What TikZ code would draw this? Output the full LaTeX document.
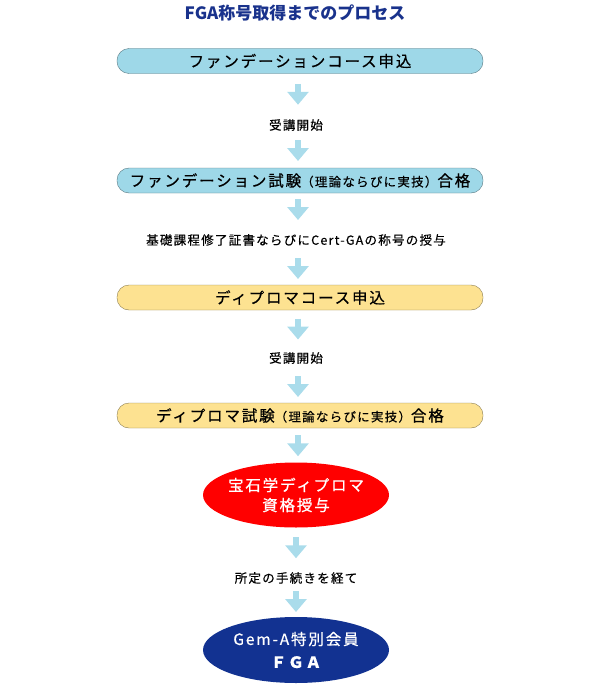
\documentclass[tikz,border=0pt]{standalone}
\usepackage{fontspec}
\setmainfont{Noto Sans CJK JP}
\newfontfamily\stagefont[LetterSpace=12,FakeBold=0.6]{Noto Sans CJK JP}
\newfontfamily\notefont[LetterSpace=10,FakeBold=0.5]{Noto Sans CJK JP}
\definecolor{titlecol}{RGB}{25,50,140}
\definecolor{foundcol}{RGB}{158,216,232}
\definecolor{diplcol}{RGB}{253,226,145}
\definecolor{flowcol}{RGB}{170,220,235}
\definecolor{fgacol}{RGB}{18,50,145}
\definecolor{dipred}{RGB}{255,0,0}
\usetikzlibrary{shapes.geometric,arrows.meta,calc}
\newcommand\bigtext{\stagefont\fontsize{15.5pt}{20pt}\selectfont}
\newcommand\smalltext{\notefont\fontsize{12.5pt}{15pt}\selectfont}
\tikzset{
  stagebox/.style={draw=#1!55!black,fill=#1,rounded corners=12pt,
    minimum width=366pt,minimum height=25pt,inner sep=0pt,font=\bigtext},
  goal/.style={ellipse,fill=#1,minimum width=186pt,minimum height=65pt,
    inner xsep=-8pt,inner ysep=0pt,font=\bigtext,text=white,align=center}
}
\begin{document}
\begin{tikzpicture}[x=1pt,y=-1pt,
  flow/.style={flowcol,line width=6pt,-{Triangle[width=21pt,length=13pt]}},
  note/.style={font=\smalltext,inner sep=0pt,minimum height=14pt}
]
  \useasboundingbox (0,0) rectangle (593,685);
  \node[font=\fontsize{17pt}{19pt}\selectfont\bfseries,text=titlecol] (title) at (295,13) {FGA称号取得までのプロセス};
  \node[stagebox=foundcol] (fcourse) at (300,61) {ファンデーションコース申込};
  \node[note] (start1) at (296,125) {受講開始};
  \node[stagebox=foundcol] (fexam) at (300,180.5) {ファンデーション試験{\smalltext（理論ならびに実技）}合格};
  \node[note] (cert) at (296,240) {基礎課程修了証書ならびにCert-GAの称号の授与};
  \node[stagebox=diplcol] (dcourse) at (300,297.5) {ディプロマコース申込};
  \node[note] (start2) at (296,358) {受講開始};
  \node[stagebox=diplcol] (dexam) at (300,415.5) {ディプロマ試験{\smalltext（理論ならびに実技）}合格};
  \node[goal=dipred] (diploma) at (296,495) {宝石学ディプロマ\\資格授与};
  \node[note] (proc) at (296,578) {所定の手続きを経て};
  \node[goal=fgacol,minimum height=66pt] (fga) at (296,650) {Gem-A特別会員\\[3pt]{\bfseries ＦＧＡ}};
  % flow arrows, centred in each gap
  \draw[flow] ($(fcourse.south)!.5!(start1.north)+(0,-12)$) -- ++(0,21);
  \draw[flow] ($(start1.south)!.5!(fexam.north)+(0,-10)$) -- ++(0,21);
  \draw[flow] ($(fexam.south)!.5!(cert.north)+(0,-14)$) -- ++(0,21);
  \draw[flow] ($(cert.south)!.5!(dcourse.north)+(0,-8)$) -- ++(0,21);
  \draw[flow] ($(dcourse.south)!.5!(start2.north)+(0,-12)$) -- ++(0,21);
  \draw[flow] ($(start2.south)!.5!(dexam.north)+(0,-8)$) -- ++(0,21);
  \draw[flow] ($(dexam.south)!.5!(diploma.north)+(0,-10)$) -- ++(0,21);
  \draw[flow] ($(diploma.south)!.5!(proc.north)+(0,-12)$) -- ++(0,21);
  \draw[flow] ($(proc.south)!.5!(fga.north)+(0,-10)$) -- ++(0,21);
\end{tikzpicture}
\end{document}
